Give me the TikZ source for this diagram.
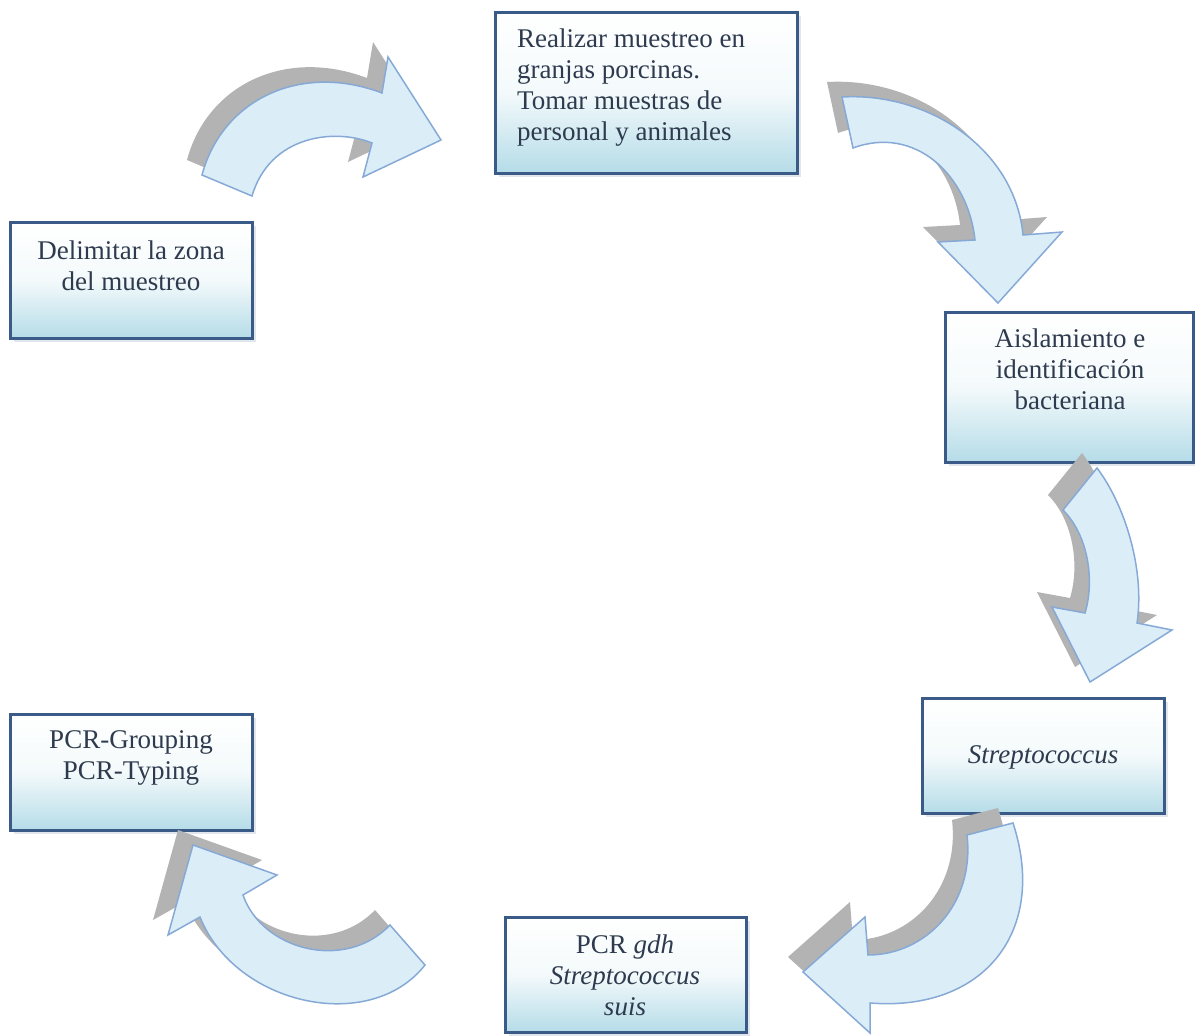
\documentclass[tikz,border=0pt]{standalone}
\usepackage{fontspec}
\setmainfont{Liberation Serif}
\usetikzlibrary{shadows}
\definecolor{boxblue}{HTML}{B5DCE8}
\definecolor{boxline}{HTML}{3A5A87}
\definecolor{arrfill}{HTML}{DBEEF8}
\definecolor{arrline}{HTML}{86A9D6}
\definecolor{arrshadow}{HTML}{B3B3B3}
\definecolor{txtcol}{HTML}{2E3B4E}
\def\arrA{(202,175) .. controls (222,100) and (300,62) .. (382,93) -- (388,57) -- (441,140) -- (363,177) -- (372,143) .. controls (335,128) and (270,135) .. (252,196) -- cycle}
\def\arrB{(842,97) .. controls (930,92) and (1015,150) .. (1023,235) -- (1062,232) -- (998,303) -- (938,242) -- (975,240) .. controls (968,175) and (915,125) .. (853,148) -- cycle}
\def\arrC{(1097,468) .. controls (1125,505) and (1145,570) .. (1137,623) -- (1172,630) -- (1090,682) -- (1052,607) -- (1085,613) .. controls (1095,580) and (1088,535) .. (1063,510) -- cycle}
\def\arrD{(1013,823) .. controls (1048,930) and (985,1012) .. (870,1003) -- (870,1033) -- (803,972) -- (865,917) -- (868,955) .. controls (925,955) and (975,905) .. (967,835) -- cycle}
\def\arrE{(425,965) .. controls (370,1035) and (235,1005) .. (200,917) -- (168,935) -- (193,845) -- (277,875) -- (243,895) .. controls (262,950) and (345,972) .. (390,925) -- cycle}
\begin{document}
\begin{tikzpicture}[x=1pt,y=-1pt,
  box/.style={draw=boxline, line width=3pt, top color=white, bottom color=boxblue,
    middle color=white!85!boxblue, inner sep=0pt,
    drop shadow={shadow xshift=4pt, shadow yshift=-4pt, fill=boxline!30, opacity=0.5}},
  txt/.style={text=txtcol, font=\fontsize{27}{31}\selectfont, align=center, inner sep=0pt},
  arr/.style={fill=arrfill, draw=arrline, line width=1.5pt, line join=miter},
  arrsh/.style={fill=arrshadow, shift={(-15,-15)}}]
\useasboundingbox (0,0) rectangle (1195,1036);
% boxes
\node[box, minimum width=242pt, minimum height=116pt] (b1) at (131,280) {};
\node[box, minimum width=302pt, minimum height=161pt] (b2) at (646,92.5) {};
\node[box, minimum width=248pt, minimum height=150pt] (b3) at (1069,387) {};
\node[box, minimum width=242pt, minimum height=115pt] (b4) at (1043,755.5) {};
\node[box, minimum width=241pt, minimum height=115pt] (b5) at (625.5,974.5) {};
\node[box, minimum width=242pt, minimum height=116pt] (b6) at (131,772) {};
% texts
\node[txt] (t1) at (131,266) {Delimitar la zona\\del muestreo};
\node[txt, align=left, anchor=west] (t2) at (517,88) {Realizar muestreo en\\granjas porcinas.\\Tomar muestras de\\personal y animales};
\node[txt] (t3) at (1070,369) {Aislamiento e\\identificación\\bacteriana};
\node[txt] (t4) at (1043,757) {\itshape Streptococcus};
\node[txt] (t5) at (625,975) {PCR \textit{gdh}\\\textit{Streptococcus}\\\textit{suis}};
\node[txt] (t6) at (131,758) {PCR-Grouping\\PCR-Typing};
% curved block arrows
\fill[arrsh] \arrA; \draw[arr] \arrA;
\fill[arrsh] \arrB; \draw[arr] \arrB;
\fill[arrsh] \arrC; \draw[arr] \arrC;
\fill[arrsh] \arrD; \draw[arr] \arrD;
\fill[arrsh] \arrE; \draw[arr] \arrE;
\end{tikzpicture}
\end{document}
